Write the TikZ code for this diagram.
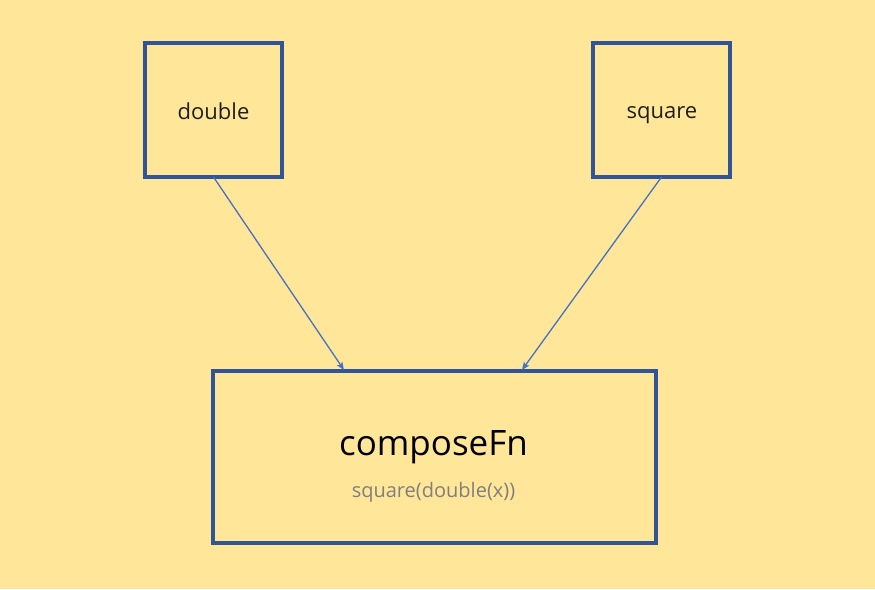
\documentclass[tikz,border=0pt]{standalone}
\usepackage{fontspec}
\setmainfont{Open Sans}
\usetikzlibrary{arrows.meta,calc}
\definecolor{bg}{HTML}{FFE699}
\definecolor{boxline}{HTML}{2F5597}
\definecolor{arrowc}{HTML}{4472C4}
\definecolor{subt}{HTML}{7F7F7F}
\begin{document}
\begin{tikzpicture}[x=1pt,y=-1pt,
  fnbox/.style={draw=boxline,line width=3.2pt,outer sep=0pt,inner sep=0pt,anchor=north west},
  lbl/.style={inner sep=0pt,anchor=base},
  conn/.style={draw=arrowc,line width=1.3pt,-{Stealth[length=8pt,width=6.5pt,inset=2pt]}}]
\fill[bg] (0,0) rectangle (875,589);
\useasboundingbox (0,0) rectangle (875,589);
\node[fnbox,minimum width=137pt,minimum height=134pt] (d) at (145,43) {};
\node[fnbox,minimum width=137pt,minimum height=134pt] (s) at (593,43) {};
\node[fnbox,minimum width=443pt,minimum height=172pt] (c) at (213,371) {};
\node[lbl,font=\fontsize{22}{26}\selectfont,text=black!88] (dt) at (213.5,119) {double};
\node[lbl,font=\fontsize{22}{26}\selectfont,text=black!88] (st) at (662,118) {square};
\node[lbl,font=\fontsize{35}{42}\selectfont,text=black] (ct) at (433.5,455) {composeFn};
\node[lbl,font=\fontsize{20}{24}\selectfont,text=subt] (cs) at (433.5,497) {square(double(x))};
\coordinate (c1) at ($(c.north west)+(131,-1)$);
\coordinate (c2) at ($(c.north west)+(309,-1)$);
\draw[conn] (d.south) -- (c1);
\draw[conn] (s.south) -- (c2);
\end{tikzpicture}
\end{document}
